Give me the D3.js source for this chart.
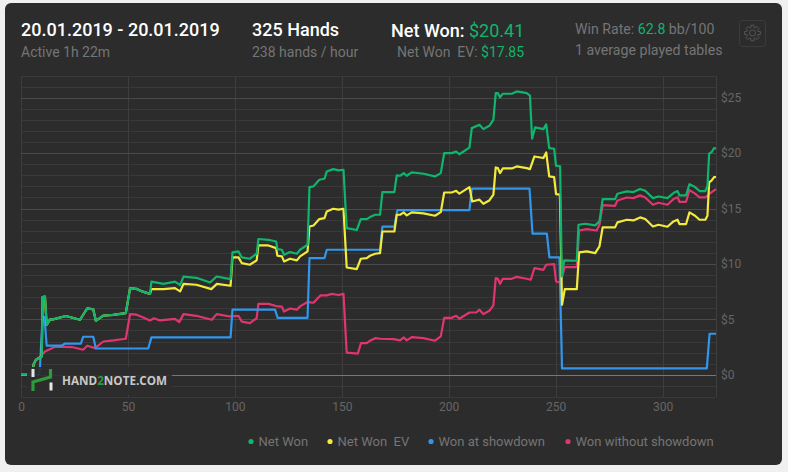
<!DOCTYPE html>
<html>
<head>
<meta charset="utf-8">
<script src="https://d3js.org/d3.v7.min.js"></script>
<style>
html, body { margin: 0; padding: 0; background: #f0f0f0; }
svg { display: block; font-family: Roboto, sans-serif; }
.grid line { shape-rendering: crispEdges; }
.grid path, .axis path { display: none; }
.axis line { display: none; }
.axis text { fill: #666; font-size: 12px; font-family: Roboto, sans-serif; }
</style>
</head>
<body>
<script>
var width = 788,
    height = 472;

// [hand, dollars]
var netWon = [[0,0],[5,0],[6,1],[7,1.35],[9.7,1.65],[10.1,7],[11.2,7.05],[12,4.5],[13.6,5],[15,5],[21,5.3],[27.6,4.96],[31,6],[33.8,5.9],[35,4.87],[38.5,5.33],[43,5.4],[49,5.56],[51,7.8],[54,7.75],[57,7.5],[60.3,7.3],[61,8.4],[66.6,8.2],[72,8.4],[74.4,8.1],[76,8.85],[82,8.75],[88.4,8.33],[91.5,8.87],[98,8.63],[98.9,11.04],[101.7,11.13],[103.2,10.6],[107,10.47],[110.2,10.92],[111,12.25],[115.7,12.18],[119.3,12.03],[119.9,11.34],[122,11.28],[123,10.83],[125.8,11.07],[129,10.92],[130.5,11.28],[134,11.73],[134.9,16.94],[136.8,17],[139.5,17.6],[141.9,17.69],[143,18.35],[146,18.56],[148.5,18.45],[150.8,18.5],[152.3,13.24],[157,13.06],[158.9,14.05],[161.7,14.05],[163.2,14.23],[165.6,14.44],[167.9,14.44],[169,16.49],[174.6,16.49],[175.7,17.99],[177.3,17.96],[179,18.2],[180.4,17.96],[182.7,18.26],[188.2,18.14],[193.6,17.9],[196.3,18.2],[197.9,20],[201.4,20],[203.5,20.15],[205,19.9],[209.7,20.5],[210.8,22.26],[214.4,22.56],[216.2,22.17],[219,22.47],[220.9,23],[222,25.42],[223,25.42],[224,25.03],[225.3,25.36],[229.5,25.36],[231.8,25.57],[236.5,25.42],[238,25.2],[239,21.3],[240.4,22.32],[244.3,22.17],[245.6,22.6],[247,20.46],[249.3,20.4],[250.2,18.86],[252.1,18.8],[252.9,8.87],[254,10.32],[259.9,10.29],[260.7,13.54],[263.8,13.63],[268.5,13.48],[270.5,13.84],[272,15.85],[277.8,15.85],[278.9,16.34],[283.3,16.55],[286.4,16.49],[289.5,16.76],[291.9,16.6],[295.5,15.94],[298.1,16.09],[302.3,15.94],[305.1,16.4],[307,16.58],[307.9,16.19],[311,16.19],[312.6,17.2],[315.2,16.94],[317.3,16.58],[320,16.58],[321,17],[321.8,19.95],[323,20.1],[324.1,20.46],[325,20.41]];

var netWonEV = [[0,0],[5,0],[6,1],[7,1.35],[9.7,1.65],[10.1,7],[11.2,7.05],[12,4.5],[13.6,5],[15,5],[21,5.3],[27.6,4.96],[31,6],[33.8,5.9],[35,4.87],[38.5,5.33],[43,5.4],[49,5.56],[51,7.8],[54,7.75],[57,7.5],[60.3,7.3],[61,7.72],[66.6,7.73],[72,7.82],[74.4,7.52],[76,8.2],[82,8.12],[89,7.73],[91.6,8.2],[98,8.03],[98.9,10.59],[101.7,10.59],[103.2,10.08],[107,9.93],[110.2,10.32],[111,11.67],[115.7,11.67],[119.3,11.43],[119.9,10.74],[122,10.68],[123,10.23],[125.8,10.47],[129,10.32],[130.5,10.68],[134,11.13],[134.9,13.38],[136.8,13.47],[139.5,14.05],[141.9,14.14],[143,14.74],[146,14.98],[148.5,14.9],[150.8,14.98],[152.3,9.68],[157,9.54],[158.9,10.47],[161.7,10.53],[163.2,10.74],[165.6,10.92],[167.9,10.98],[169,12.93],[174.6,12.93],[175.7,14.44],[177.3,14.44],[179,14.65],[180.4,14.38],[182.7,14.65],[188.2,14.56],[193.6,14.35],[196.3,14.68],[197.9,16.45],[201.4,16.45],[203.5,16.6],[205,16.34],[209.7,16.94],[211,15.64],[214.4,15.8],[216.2,15.43],[219,15.73],[220.9,16.25],[222,18.71],[223,18.65],[224,18.2],[225.3,18.62],[229.5,18.62],[231.8,18.8],[236.5,18.65],[238,18.56],[240.1,19.7],[244.3,19.56],[245.6,20.06],[247,17.9],[249.3,17.84],[250.2,16.3],[252,16.25],[253,6.32],[254.3,7.73],[259.9,7.73],[261,11.04],[264.6,11.13],[268.5,10.98],[270.5,11.58],[272,13.3],[277.8,13.3],[278.9,13.75],[283.3,13.99],[286.4,13.93],[289.5,14.2],[291.9,14.05],[295.5,13.38],[298.1,13.54],[302.3,13.36],[305.1,13.84],[307,13.99],[307.9,13.6],[311,13.6],[312.6,14.65],[315.2,14.35],[317.3,13.99],[320,13.99],[321,14.35],[321.8,17.36],[323,17.54],[324.1,17.84],[325,17.85]];

var wonShowdown = [[0,0],[8.4,0],[8.9,0.75],[10.1,5.26],[11,5.2],[12,2.62],[19,2.62],[20.4,2.8],[28,2.8],[29.1,3.43],[33.8,3.43],[35,2.37],[59.5,2.37],[61,3.37],[98,3.37],[98.9,5.87],[118.8,5.87],[120,5.14],[134,5.14],[134.9,10.53],[141.9,10.53],[143,11.28],[167.9,11.28],[169,13.36],[174.6,13.36],[176,14.86],[209.7,14.86],[210.8,16.79],[237.8,16.79],[239.2,12.73],[245.9,12.73],[247.1,10.59],[251.8,10.59],[253,0.57],[320.7,0.57],[322,3.7],[325,3.7]];

var wonNoShowdown = [[0,0],[5,0],[6,1],[7,1.35],[8.9,1.6],[11.2,2.1],[16,2.53],[23.7,2.5],[29.1,2.26],[31,2.62],[34.6,2.4],[38.5,3],[43.2,3.1],[49,3.25],[51,5.47],[54,5.42],[57.2,5.17],[60.3,4.9],[62.2,5.1],[65,4.9],[72,5.05],[74,4.75],[76,5.47],[82,5.32],[89.2,4.96],[91.5,5.47],[97.8,5.26],[101.7,5.32],[103.2,4.8],[107,4.66],[110.2,5.1],[111,6.4],[115.7,6.4],[119.3,6.2],[122,6.15],[123,5.7],[125.8,5.98],[129,5.87],[130.5,6.17],[134,6.56],[136.8,6.5],[140,7.16],[143,7.16],[145.3,7.3],[148.5,7.2],[150.8,7.3],[152.3,2],[157.5,1.9],[159,2.86],[161.7,2.86],[163.2,3.07],[165.6,3.3],[168,3.25],[174.1,3.22],[177.3,3.1],[179,3.37],[180.4,3.1],[182.7,3.4],[188.2,3.3],[193.6,3.07],[196.3,3.46],[197.9,5.14],[201.4,5.14],[203.5,5.32],[205,5.05],[209.7,5.62],[212.9,5.62],[214.4,5.87],[216.2,5.47],[219,5.77],[220.9,6.26],[222,8.72],[223,8.66],[224,8.2],[225.3,8.66],[229.5,8.66],[231.8,8.84],[236.5,8.66],[238.4,8.57],[240.1,9.63],[244.3,9.47],[245.6,9.93],[249.3,9.99],[250.2,8.42],[252.1,8.33],[253,8.8],[254.3,9.72],[259.9,9.72],[261,13.02],[264.6,13.15],[269.2,13.02],[270.5,13.54],[272,15.31],[277.8,15.25],[278.9,15.73],[283.3,16],[286.4,15.94],[289.5,16.19],[291.9,16],[295.5,15.34],[298.1,15.52],[302.3,15.34],[305.1,15.85],[307,16.03],[307.9,15.61],[311,15.61],[312.6,16.67],[315.2,16.34],[317.3,16],[320,16],[322,16.34],[325,16.76]];

var seriesNames = ['Net Won', 'Net Won  EV', 'Won at showdown', 'Won without showdown'],
    seriesColors = ['#10b56d', '#f4ea3c', '#3196ec', '#e0356f'],
    legendX = [251, 330, 431, 568];

var xTicks = [0, 50, 100, 150, 200, 250, 300],
    yMajor = [0, 5, 10, 15, 20, 25],
    yMinor = d3.range(-2, 28);

var x = d3.scaleLinear().domain([0, 325]).range([21, 716]),
    y = d3.scaleLinear().domain([-2, 27]).range([396.9, 75.6]);

var svg = d3.select('body').append('svg')
    .attr('width', width)
    .attr('height', height);

// card
svg.append('rect')
    .attr('x', 5).attr('y', 3)
    .attr('width', 777).attr('height', 462)
    .attr('rx', 6)
    .attr('fill', '#2c2c2c');

// header
function label(px, py, size, color, parts, weight) {
    var t = svg.append('text')
        .attr('x', px).attr('y', py)
        .attr('font-size', size)
        .attr('font-weight', weight || 400)
        .style('white-space', 'pre');
    parts.forEach(function(p) {
        t.append('tspan').attr('fill', p[1] || color).text(p[0]);
    });
}
label(21, 36, 18, '#fff', [['20.01.2019 - 20.01.2019']], 500);
label(21, 57, 14, '#757575', [['Active 1h 22m']]);
label(252, 36, 18, '#fff', [['325 Hands']], 500);
label(252, 57, 14, '#757575', [['238 hands / hour']]);
label(391, 37, 18, '#fff', [['Net Won:']], 500);
label(469, 37, 18, '#10b56d', [['$20.41']]);
label(397, 57, 14, '#757575', [['Net Won  EV: '], ['$17.85', '#10b56d']]);
label(575, 34, 14.15, '#757575', [['Win Rate: '], ['62.8', '#10b56d'], [' bb/100']]);
label(575, 55, 14.15, '#757575', [['1 average played tables']]);

// settings button
svg.append('rect')
    .attr('x', 739.5).attr('y', 20.5)
    .attr('width', 26).attr('height', 26)
    .attr('rx', 3)
    .attr('fill', 'none')
    .attr('stroke', '#3c3c3c');

var gearPts = [];
d3.range(8).forEach(function(i) {
    var a = i * Math.PI / 4;
    gearPts.push([a - 0.3, 5.6], [a - 0.18, 8], [a + 0.18, 8], [a + 0.3, 5.6]);
});
var gearIcon = svg.append('g')
    .attr('transform', 'translate(752.5,33)')
    .attr('fill', 'none')
    .attr('stroke', '#555')
    .attr('stroke-width', 1);
gearIcon.append('path')
    .attr('d', d3.lineRadial().curve(d3.curveLinearClosed)(gearPts));
gearIcon.append('circle').attr('r', 3);

// grid
var gridMinor = svg.append('g')
    .attr('class', 'grid')
    .attr('transform', 'translate(21,0)')
    .call(d3.axisRight(y).tickValues(yMinor).tickSize(695).tickFormat(''));
gridMinor.selectAll('line').attr('stroke', '#393939');

var gridX = svg.append('g')
    .attr('class', 'grid')
    .attr('transform', 'translate(0,75.6)')
    .call(d3.axisBottom(x).tickValues(xTicks.concat([325])).tickSize(321).tickFormat(''));
gridX.selectAll('line').attr('stroke', '#3d3d3d');

var gridMajor = svg.append('g')
    .attr('class', 'grid')
    .attr('transform', 'translate(21,0)')
    .call(d3.axisRight(y).tickValues(yMajor).tickSize(695).tickFormat(''));
gridMajor.selectAll('line')
    .attr('stroke', function(d) { return d === 0 ? '#767676' : '#4a4a4a'; });

// axes
svg.append('g')
    .attr('class', 'axis')
    .attr('transform', 'translate(716,0)')
    .call(d3.axisRight(y).tickValues(yMajor).tickSize(0).tickPadding(5).tickFormat(function(d) { return '$' + d; }));

svg.append('g')
    .attr('class', 'axis')
    .attr('transform', 'translate(0,396.9)')
    .call(d3.axisBottom(x).tickValues(xTicks).tickSize(0).tickPadding(6));

// lines, green ends up on top
var line = d3.line()
    .x(function(d) { return x(d[0]); })
    .y(function(d) { return y(d[1]); });

[[wonNoShowdown, 3], [wonShowdown, 2], [netWonEV, 1], [netWon, 0]].forEach(function(s) {
    svg.append('path')
        .datum(s[0])
        .attr('d', line)
        .attr('fill', 'none')
        .attr('stroke', seriesColors[s[1]])
        .attr('stroke-width', 2.2)
        .attr('stroke-linejoin', 'round');
});

// watermark
svg.append('rect')
    .attr('x', 27).attr('y', 367)
    .attr('width', 145).attr('height', 28)
    .attr('fill', '#2c2c2c')
    .attr('fill-opacity', 0.9);
svg.append('path')
    .attr('d', 'M33,391V382L50.5,377V369')
    .attr('fill', 'none')
    .attr('stroke', '#2f9a3d')
    .attr('stroke-width', 3.2);
svg.append('rect').attr('x', 31.5).attr('y', 369).attr('width', 3).attr('height', 8).attr('fill', '#e6e6e6');
svg.append('rect').attr('x', 49.5).attr('y', 382.5).attr('width', 3).attr('height', 8).attr('fill', '#e6e6e6');
var mark = svg.append('text')
    .attr('x', 62).attr('y', 385)
    .attr('font-size', 11.7)
    .attr('font-weight', 700)
    .attr('font-family', '"Open Sans", sans-serif')
    .attr('fill', '#c8c8c8');
mark.append('tspan').text('HAND');
mark.append('tspan').attr('fill', '#2f9a3d').text('2');
mark.append('tspan').text('NOTE.COM');

// legend
seriesNames.forEach(function(name, i) {
    svg.append('circle')
        .attr('cx', legendX[i]).attr('cy', 441.5)
        .attr('r', 2.6)
        .attr('fill', seriesColors[i]);
    svg.append('text')
        .attr('x', legendX[i] + 7.5).attr('y', 445.5)
        .attr('font-size', 13)
        .attr('fill', '#757575')
        .style('white-space', 'pre')
        .text(name);
});
</script>
</body>
</html>
